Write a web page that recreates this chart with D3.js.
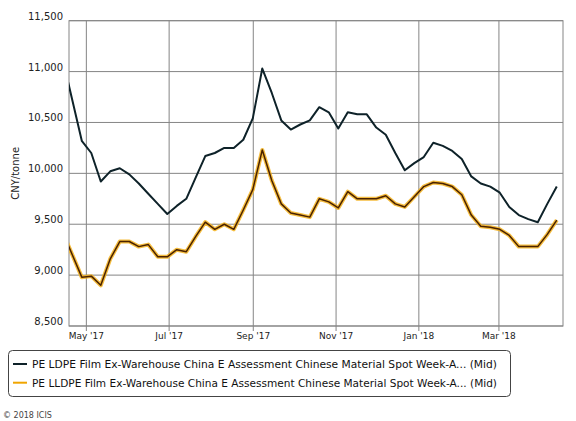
<!DOCTYPE html>
<html>
<head>
<meta charset="utf-8">
<script src="https://cdn.jsdelivr.net/npm/d3@7"></script>
<style>
  body { margin: 0; background: #fff; }
  svg { display: block; font-family: "DejaVu Sans", Verdana, sans-serif; }
</style>
</head>
<body>
<svg width="576" height="421"></svg>
<script>
// weekly assessment dates (Fridays)
var dates = ["2017-04-14","2017-04-21","2017-04-28","2017-05-05","2017-05-12","2017-05-19","2017-05-26",
  "2017-06-02","2017-06-09","2017-06-16","2017-06-23","2017-06-30","2017-07-07","2017-07-14","2017-07-21",
  "2017-07-28","2017-08-04","2017-08-11","2017-08-18","2017-08-25","2017-09-01","2017-09-08","2017-09-15",
  "2017-09-22","2017-09-29","2017-10-06","2017-10-13","2017-10-20","2017-10-27","2017-11-03","2017-11-10",
  "2017-11-17","2017-11-24","2017-12-01","2017-12-08","2017-12-15","2017-12-22","2017-12-29","2018-01-05",
  "2018-01-12","2018-01-19","2018-01-26","2018-02-02","2018-02-09","2018-02-16","2018-02-23","2018-03-02",
  "2018-03-09","2018-03-16","2018-03-23","2018-03-30","2018-04-06","2018-04-13"];

var ldpe = [11120,10720,10320,10200,9920,10020,10050,9990,9900,9800,9700,9600,9680,9750,9960,10170,
  10200,10250,10250,10330,10540,11030,10790,10520,10430,10480,10520,10650,10600,10440,10600,10580,
  10580,10450,10380,10200,10030,10100,10160,10300,10270,10220,10140,9970,9900,9870,9810,9670,9590,
  9550,9520,9700,9870];

var lldpe = [9420,9200,8980,8990,8900,9160,9330,9330,9280,9300,9180,9180,9250,9230,9380,9520,
  9450,9500,9450,9640,9840,10230,9930,9700,9610,9590,9570,9750,9720,9660,9820,9750,9750,9750,
  9780,9700,9670,9770,9870,9910,9900,9870,9790,9590,9480,9470,9450,9390,9280,9280,9280,9400,9540];

var yTicks = [8500, 9000, 9500, 10000, 10500, 11000, 11500];
var legendNames = [
  "PE LDPE Film Ex-Warehouse China E Assessment Chinese Material Spot Week-A... (Mid)",
  "PE LLDPE Film Ex-Warehouse China E Assessment Chinese Material Spot Week-A... (Mid)"
];

var svg = d3.select("svg");
var plotLeft = 69, plotRight = 563, plotTop = 20.7, plotBottom = 326;
var parse = d3.timeParse("%Y-%m-%d");
var days = dates.map(parse);

var x = d3.scaleTime()
    .domain([new Date(2017, 3, 18, 14), new Date(2018, 3, 17, 14)])
    .range([plotLeft, plotRight]);
var y = d3.scaleLinear().domain([8500, 11500]).range([plotBottom, plotTop]);

var gridColor = "#858585";

// horizontal grid + y labels
svg.append("g")
    .selectAll("line")
    .data(yTicks)
    .enter().append("line")
    .attr("x1", plotLeft).attr("x2", plotRight)
    .attr("y1", function (d) { return y(d); })
    .attr("y2", function (d) { return y(d); })
    .attr("stroke", gridColor).attr("stroke-width", 1);

svg.append("g")
    .selectAll("text")
    .data(yTicks)
    .enter().append("text")
    .attr("x", 63)
    .attr("y", function (d) { return y(d) - 1; })
    .attr("text-anchor", "end")
    .attr("font-size", 10)
    .attr("fill", "#222")
    .text(d3.format(","));

// vertical grid via axis
var monthTicks = d3.timeMonth.every(2).range(new Date(2017, 4, 1), new Date(2018, 3, 2));
svg.append("g")
    .attr("transform", "translate(0," + plotBottom + ")")
    .call(d3.axisBottom(x).tickValues(monthTicks).tickSizeInner(-(plotBottom - plotTop)).tickSizeOuter(0).tickFormat(""))
    .call(function (g) {
        g.select(".domain").remove();
        g.selectAll("line").attr("stroke", gridColor);
    });

var xAxis = svg.append("g")
    .attr("transform", "translate(0," + plotBottom + ")")
    .call(d3.axisBottom(x).tickValues(monthTicks).tickSize(5).tickPadding(2).tickFormat(d3.timeFormat("%b '%y")));
xAxis.select(".domain").remove();
xAxis.selectAll("line").attr("stroke", gridColor);
xAxis.selectAll("text").attr("font-size", 9).attr("fill", "#222")
    .attr("font-family", "DejaVu Sans, sans-serif");

// plot border
svg.append("rect")
    .attr("x", plotLeft).attr("y", plotTop)
    .attr("width", plotRight - plotLeft).attr("height", plotBottom - plotTop)
    .attr("fill", "none").attr("stroke", gridColor);

svg.append("text")
    .attr("transform", "translate(15," + ((plotTop + plotBottom) / 2) + ") rotate(-90)")
    .attr("text-anchor", "middle")
    .attr("dy", "0.35em")
    .attr("font-size", 10)
    .attr("fill", "#222")
    .text("CNY/tonne");

// lines
svg.append("clipPath").attr("id", "plot")
    .append("rect").attr("x", plotLeft).attr("y", plotTop - 5)
    .attr("width", plotRight - plotLeft).attr("height", plotBottom - plotTop + 5);

var line = d3.line()
    .x(function (d, i) { return x(days[i]); })
    .y(function (d) { return y(d); });

var lines = svg.append("g").attr("clip-path", "url(#plot)");
lines.append("path").datum(lldpe)
    .attr("d", line).attr("fill", "none")
    .attr("stroke", "#f3b21c").attr("stroke-opacity", 0.85)
    .attr("stroke-width", 4).attr("stroke-linejoin", "round");
lines.append("path").datum(lldpe)
    .attr("d", line).attr("fill", "none")
    .attr("stroke", "#4a2200").attr("stroke-width", 1.5).attr("stroke-linejoin", "round");
lines.append("path").datum(ldpe)
    .attr("d", line).attr("fill", "none")
    .attr("stroke", "#0e2229").attr("stroke-width", 2).attr("stroke-linejoin", "round");

// legend
var legend = svg.append("g");
legend.append("rect")
    .attr("x", 8.5).attr("y", 350.5).attr("width", 502).attr("height", 46).attr("rx", 4)
    .attr("fill", "#fff").attr("stroke", "#444").attr("stroke-width", 1);

var legendColors = ["#0e2229", "#f0a500"];
legendNames.forEach(function (name, i) {
    var ly = 364 + i * 18.7;
    legend.append("line")
        .attr("x1", 13).attr("x2", 27).attr("y1", ly).attr("y2", ly)
        .attr("stroke", legendColors[i]).attr("stroke-width", 2);
    legend.append("text")
        .attr("x", 32).attr("y", ly + 4)
        .attr("font-size", 10.5).attr("fill", "#111")
        .attr("textLength", 465).attr("lengthAdjust", "spacingAndGlyphs")
        .text(name);
});

svg.append("text")
    .attr("x", 3).attr("y", 418)
    .attr("font-size", 8).attr("fill", "#444")
    .text("\u00a9 2018 ICIS");
</script>
</body>
</html>
